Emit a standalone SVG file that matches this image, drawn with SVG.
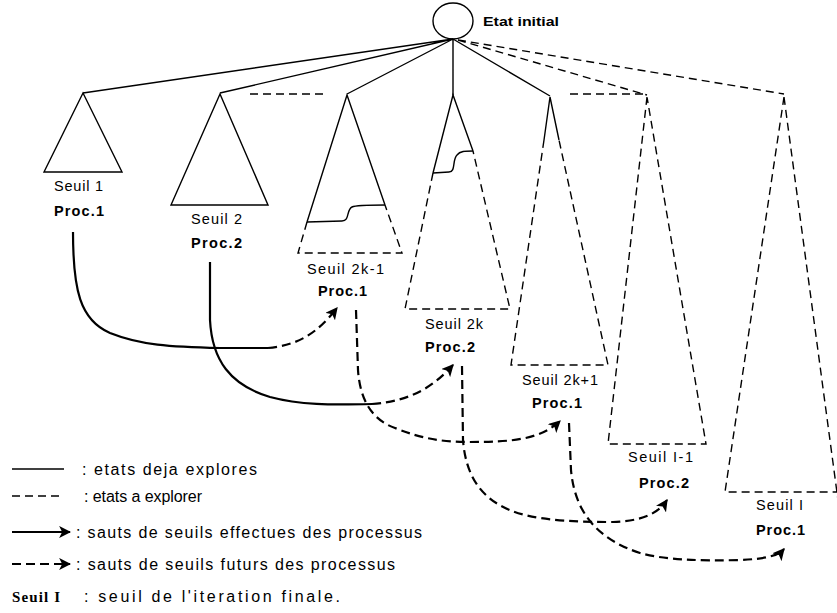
<svg xmlns="http://www.w3.org/2000/svg" width="837" height="613" viewBox="0 0 837 613">
<defs>
<marker id="ah" viewBox="0 0 10 10" refX="9" refY="5" markerWidth="5.5" markerHeight="5.5" orient="auto" markerUnits="strokeWidth">
<path d="M0,0 L10,5 L0,10 L2.5,5 Z" fill="#000"/>
</marker>
<style>
.s{fill:none;stroke:#000;stroke-width:1.4}
.d{fill:none;stroke:#000;stroke-width:1.4;stroke-dasharray:8 5}
.cs{fill:none;stroke:#000;stroke-width:2.2}
.cd{fill:none;stroke:#000;stroke-width:2.2;stroke-dasharray:9 5}
.lb{font-family:"Liberation Sans",Arial,sans-serif;font-size:14.5px;fill:#000}
.pb{font-family:"Liberation Sans",Arial,sans-serif;font-size:14.5px;font-weight:bold;fill:#000}
.lg{font-family:"Liberation Sans",Arial,sans-serif;font-size:16px;fill:#000}
</style>
</defs>
<rect width="837" height="613" fill="#fff"/>

<g id="root">
<ellipse cx="453" cy="21" rx="20" ry="18" class="s"/>
<text x="483" y="26" class="pb" style="font-size:12.5px" textLength="76" lengthAdjust="spacingAndGlyphs">Etat initial</text>
</g>

<g id="tree-links">
<path class="s" d="M453,39 L83,93 M453,39 L220,93 M453,39 L347,94 M453,39 L453,95 M453,39 L550,96"/>
<path class="d" d="M458,40 L647,95 M458,40 L784,94"/>
<path class="d" d="M250,94 L323,94 M570,94 L643,94"/>
</g>

<g id="t1">
<path class="s" d="M83,93 L44,172 L122,172 Z"/>
<text x="54" y="191" class="lb" textLength="49">Seuil 1</text>
<text x="54" y="216" class="pb" textLength="50">Proc.1</text>
</g>

<g id="t2">
<path class="s" d="M220,94 L171,205 L268,205 Z"/>
<text x="191" y="224" class="lb" textLength="51">Seuil 2</text>
<text x="191" y="248" class="pb" textLength="51">Proc.2</text>
</g>

<g id="t3">
<path class="s" d="M307,222 L347,95 L385,205"/>
<path class="s" d="M307,222 L342,221 C350,221 346,210 352,207 C356,205 370,205 385,205"/>
<path class="d" d="M307,222 L298,253 L402,253 L385,205"/>
<text x="307" y="274" class="lb" textLength="77">Seuil 2k-1</text>
<text x="318" y="296" class="pb" textLength="49">Proc.1</text>
</g>

<g id="t4">
<path class="s" d="M433,173 L453,95 L473,151"/>
<path class="s" d="M433,173 L449,172 C456,172 452,160 457,155 C460,151 465,151 473,151"/>
<path class="d" d="M433,173 L405,309 L510,309 L473,151"/>
<text x="425" y="329" class="lb" textLength="58">Seuil 2k</text>
<text x="425" y="352" class="pb" textLength="50">Proc.2</text>
</g>

<g id="t5">
<path class="s" d="M544,140 L550,97 L559,140"/>
<path class="d" d="M544,140 L511,365 L608,365 L559,140"/>
<text x="522" y="385" class="lb" textLength="76">Seuil 2k+1</text>
<text x="532" y="408" class="pb" textLength="50">Proc.1</text>
</g>

<g id="t6">
<path class="d" d="M647,97 L608,444 L706,444 Z"/>
<text x="628" y="462" class="lb" textLength="65">Seuil I-1</text>
<text x="639" y="488" class="pb" textLength="50">Proc.2</text>
</g>

<g id="t7">
<path class="d" d="M784,97 L725,492 L842,492 M784,97 L842,530"/>
<text x="756" y="510" class="lb" textLength="47">Seuil I</text>
<text x="756" y="535" class="pb" textLength="49">Proc.1</text>
</g>

<g id="connectors">
<path class="cs" d="M73,232 C73,290 80,320 110,333 C140,345 170,347 220,348 L268,348"/>
<path class="cd" d="M268,348 C300,345 318,332 337,308" marker-end="url(#ah)"/>
<path class="cs" d="M210,262 L210,320 C212,360 230,385 270,397 C300,405 330,405 372,404"/>
<path class="cd" d="M372,404 C410,401 432,388 453,365" marker-end="url(#ah)"/>
<path class="cd" d="M356,310 L358,370 C360,400 372,420 395,428 C420,438 440,442 470,442 C510,442 540,440 560,421" marker-end="url(#ah)"/>
<path class="cd" d="M462,366 L463,440 C466,480 485,505 525,515 C550,521 580,522 613,522 C640,521 657,515 667,500" marker-end="url(#ah)"/>
<path class="cd" d="M569,423 L571,470 C575,515 600,540 640,553 C665,560 700,561 740,560 C765,559 778,556 784,549" marker-end="url(#ah)"/>
</g>

<g id="legend">
<line x1="12" y1="469" x2="64" y2="469" class="s"/>
<text x="82" y="475" class="lg" textLength="175">: etats deja explores</text>
<line x1="12" y1="496" x2="64" y2="496" class="d" stroke-dasharray="13 5"/>
<text x="84" y="502" class="lg" textLength="118">: etats a explorer</text>
<line x1="12" y1="532" x2="70" y2="532" class="cs" stroke-width="1.8" marker-end="url(#ah)"/>
<text x="76" y="538" class="lg" textLength="346">: sauts de seuils effectues des processus</text>
<line x1="12" y1="564" x2="70" y2="564" class="cd" stroke-width="1.8" stroke-dasharray="10 5" marker-end="url(#ah)"/>
<text x="76" y="570" class="lg" textLength="319">: sauts de seuils futurs des processus</text>
<text x="12" y="602" font-family="'Liberation Serif','Times New Roman',serif" font-weight="bold" font-size="15" textLength="48">Seuil I</text>
<text x="84" y="602" class="lg" textLength="256">: seuil de l'iteration finale.</text>
</g>
</svg>
